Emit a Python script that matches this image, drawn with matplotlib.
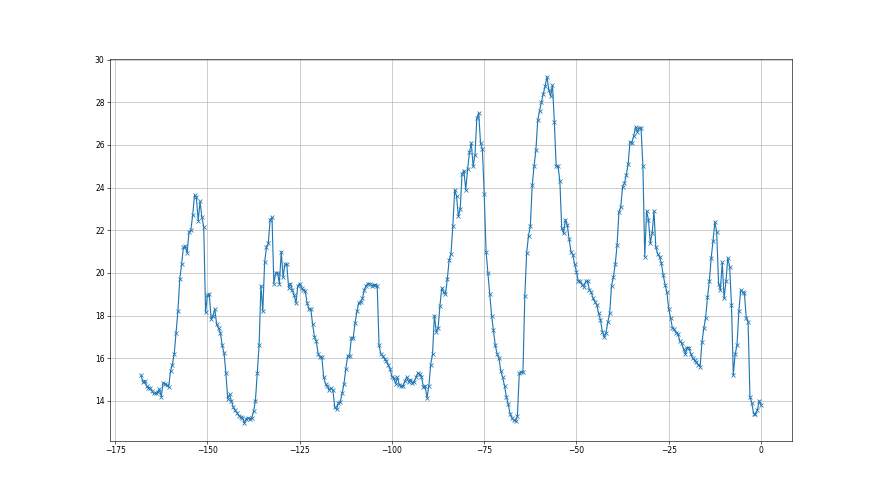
import numpy as np
import matplotlib
matplotlib.use('Agg')
import matplotlib.pyplot as plt

# half-hourly readings over the last 7 days (hours relative to now)
temp = [
    15.2, 14.9, 14.95, 14.7, 14.6, 14.6, 14.45, 14.35, 14.35, 14.4,
    14.55, 14.2, 14.85, 14.8, 14.75, 14.65, 15.4, 15.7, 16.2, 17.2,
    18.2, 19.7, 20.4, 21.2, 21.25, 20.95, 21.9, 22.0, 22.7, 23.65,
    23.55, 22.45, 23.35, 22.6, 22.15, 18.15, 18.95, 19.0, 17.85, 18.0,
    18.3, 17.6, 17.4, 17.2, 16.6, 16.25, 15.3, 14.1, 14.3, 14.0,
    13.7, 13.55, 13.45, 13.3, 13.25, 13.2, 12.95, 13.15, 13.2, 13.15,
    13.2, 13.5, 14.0, 15.3, 16.6, 19.4, 18.2, 20.5, 21.2, 21.4,
    22.5, 22.6, 19.5, 20.0, 20.0, 19.5, 21.0, 19.8, 20.4, 20.4,
    19.3, 19.5, 19.2, 18.95, 18.6, 19.4, 19.5, 19.3, 19.2, 19.15,
    18.6, 18.3, 18.3, 17.6, 17.0, 16.8, 16.2, 16.05, 16.05, 15.1,
    14.8, 14.7, 14.5, 14.6, 14.5, 13.7, 13.6,
    13.9, 13.95, 14.35, 14.8, 15.5, 16.1, 16.1, 16.95, 16.95, 17.65,
    18.2, 18.6, 18.65, 18.8, 19.2, 19.4, 19.5, 19.5, 19.4, 19.45,
    19.45, 19.4, 16.6, 16.2, 16.1, 15.97, 15.85, 15.67, 15.5, 15.13,
    15.07, 14.8, 15.1, 14.75, 14.7, 14.68, 14.95, 15.1, 14.9, 15.0,
    14.85, 14.9, 15.1, 15.3, 15.25, 15.13, 14.66, 14.7, 14.13, 14.7,
    15.7, 16.2, 18.0, 17.25, 17.4, 18.45, 19.3, 19.1, 19.0, 19.7,
    20.6, 20.9, 22.2, 23.9, 23.6, 22.65, 23.0, 24.65, 24.8, 23.9,
    24.85, 25.65, 26.1, 25.0, 25.55, 27.25, 27.5, 26.1, 25.8, 23.7,
    21.0, 20.0, 19.0, 18.0, 17.3, 16.6, 16.2, 16.0, 15.4, 15.1,
    14.7, 14.2, 13.85, 13.4, 13.2, 13.1, 13.05, 13.3, 15.3, 15.35,
    15.35, 18.9, 20.95, 21.74, 22.2, 24.1, 25.0, 25.75, 27.15, 27.6,
    28.0, 28.4, 28.75, 29.2, 28.6, 28.3, 28.8, 27.1, 25.0, 25.0,
    24.3, 22.1, 21.85, 22.5, 22.25, 21.6, 21.0, 20.85, 20.4, 20.05,
    19.6, 19.6, 19.45, 19.35, 19.6, 19.6, 19.2, 19.1, 18.8, 18.65,
    18.5, 18.1, 17.8, 17.25, 17.0, 17.2, 17.7, 18.1, 19.4, 19.8,
    20.4, 21.3, 22.85, 23.1, 24.05, 24.2, 24.6, 25.1, 26.15, 26.1,
    26.4, 26.85, 26.6, 26.8, 26.8, 25.0, 20.75, 22.9, 22.5, 21.4,
    21.85, 22.9, 21.2, 20.9, 20.75, 20.45, 19.9, 19.45, 19.1, 18.3,
    17.9, 17.4, 17.35, 17.2, 17.15, 16.8, 16.7, 16.45, 16.2, 16.5,
    16.5, 16.2, 16.0, 15.9, 15.8, 15.7, 15.6, 16.75, 17.4, 17.9,
    18.85, 19.6, 20.7, 21.5, 22.4, 21.9, 19.5, 19.2, 20.5, 18.8,
    19.6, 20.7, 20.3, 18.5, 15.2, 16.2, 16.6, 18.2, 19.2, 19.1,
    19.05, 17.9, 17.7, 14.2, 13.9, 13.4, 13.4, 13.55, 14.0, 13.8,
]
hours = np.arange(len(temp)) * 0.5 - (len(temp) - 1) * 0.5  # ends at 0

fig, ax = plt.subplots(figsize=(16, 9), dpi=55)
ax.plot(hours, temp, marker='x')
ax.grid(True)

fig.savefig('out.png', dpi=55)
